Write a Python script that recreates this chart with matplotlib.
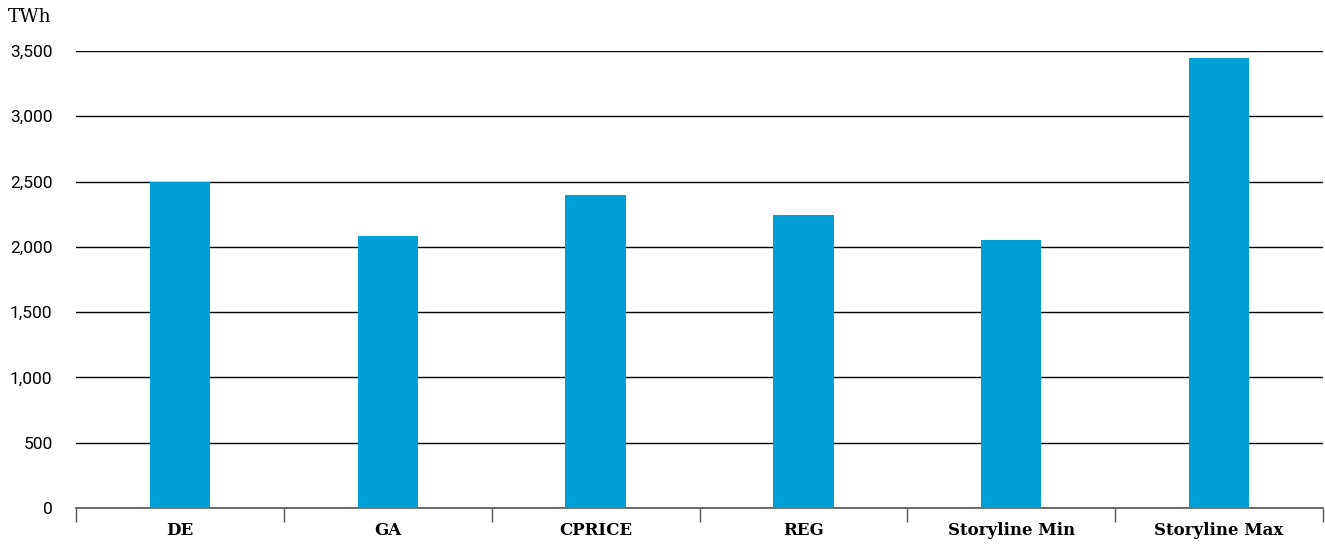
import matplotlib.pyplot as plt
import numpy as np

categories = ["DE", "GA", "CPRICE", "REG", "Storyline Min", "Storyline Max"]
values = [2500, 2080, 2400, 2240, 2050, 3445]
y_ticks = [0, 500, 1000, 1500, 2000, 2500, 3000, 3500]

bar_color = "#009fd6"

fig = plt.figure(figsize=(13.25, 5.44), dpi=100)
ax = fig.add_axes([0.0574, 0.0662, 0.9411, 0.8401])

x = np.arange(len(categories))
ax.bar(x, values, width=0.29, color=bar_color, zorder=3)

ax.set_xlim(-0.5, len(categories) - 0.5)
ax.set_ylim(0, 3500)

ax.set_yticks(y_ticks)
ax.set_yticklabels(["{:,}".format(v) for v in y_ticks], family="Roboto", fontsize=12.5)
ax.tick_params(axis="y", length=0, pad=17)
ax.yaxis.grid(True, color="black", linewidth=1.0, zorder=0)

# category labels centred, separator ticks at the boundaries
ax.set_xticks(x)
ax.set_xticklabels(categories, family="DejaVu Serif", fontweight="bold", fontsize=12)
ax.tick_params(axis="x", length=0, pad=10)
ax.set_xticks(np.arange(len(categories) + 1) - 0.5, minor=True)
ax.tick_params(axis="x", which="minor", length=10, color="#555555", width=1)

for s in ["top", "right", "left"]:
    ax.spines[s].set_visible(False)
ax.spines["bottom"].set_color("#555555")
ax.spines["bottom"].set_linewidth(1.2)

fig.text(8 / 1325, 1 - 17 / 544, "TWh", family="DejaVu Serif", fontsize=13.5,
         ha="left", va="center")

fig.savefig("out.png", dpi=100)
